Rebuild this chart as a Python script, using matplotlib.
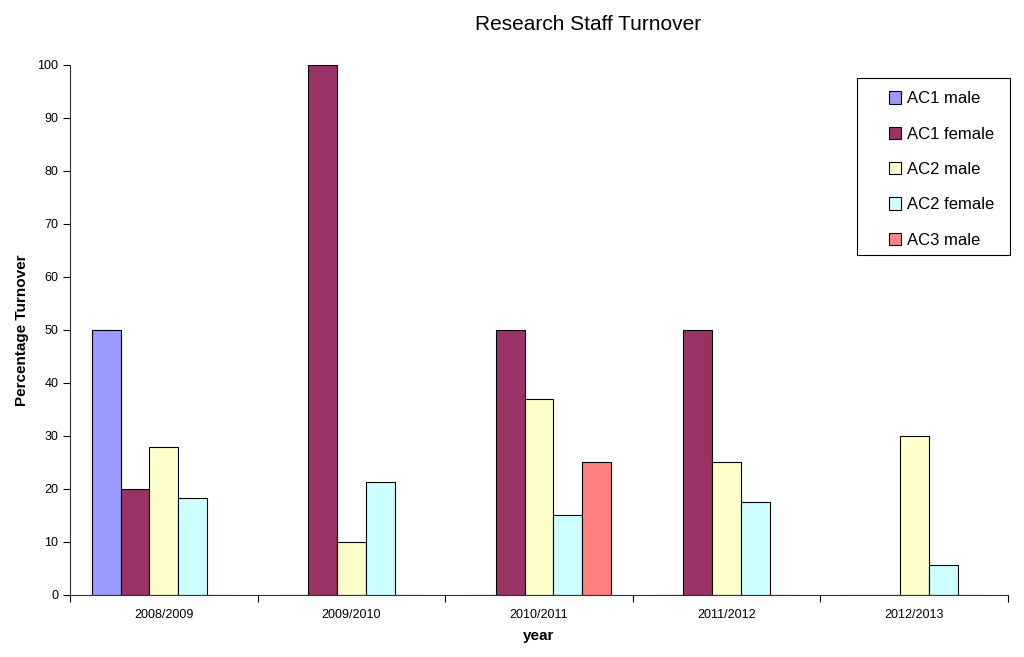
import matplotlib
matplotlib.use("Agg")
import matplotlib.pyplot as plt
from matplotlib.patches import Rectangle
import numpy as np

plt.rcParams['font.family'] = ['Liberation Sans', 'DejaVu Sans']

years = ["2008/2009", "2009/2010", "2010/2011", "2011/2012", "2012/2013"]
series_names = ["AC1 male", "AC1 female", "AC2 male", "AC2 female", "AC3 male"]
ac1_male = [50, 0, 0, 0, 0]
ac1_female = [20, 100, 50, 50, 0]
ac2_male = [28, 10, 37, 25, 30]
ac2_female = [18.2, 21.4, 15, 17.5, 5.6]
ac3_male = [0, 0, 25, 0, 0]
colors = ["#9999FF", "#993366", "#FFFFCC", "#CCFFFF", "#FF8080"]

series = [ac1_male, ac1_female, ac2_male, ac2_female, ac3_male]

fig = plt.figure(figsize=(10.24, 6.57), dpi=100)
ax = fig.add_axes([0.0684, 0.0944, 0.916, 0.807])

x = np.arange(len(years))
w = 1 / 6.5
for i, (vals, name, c) in enumerate(zip(series, series_names, colors)):
    offs = (i - 2) * w
    ax.bar(x + offs, vals, width=w, color=c, edgecolor="black", linewidth=0.8,
           label=name)

ax.set_xlim(-0.5, len(years) - 0.5)
ax.set_ylim(0, 100)
ax.set_yticks(np.arange(0, 101, 10))
ax.set_xticks(x)
ax.set_xticklabels(years, fontsize=9)
ax.set_xticks(np.arange(-0.5, len(years), 1), minor=True)
ax.tick_params(axis='x', which='major', length=0, pad=10)
ax.tick_params(axis='x', which='minor', length=5, direction='out', width=0.8)
ax.tick_params(axis='y', labelsize=9, length=5, direction='out', width=0.8)
for s in ['top', 'right']:
    ax.spines[s].set_visible(False)
for s in ['left', 'bottom']:
    ax.spines[s].set_linewidth(0.8)
    ax.spines[s].set_color('#333333')

ax.set_xlabel("year", fontsize=11, fontweight='bold', labelpad=6)
ax.set_ylabel("Percentage Turnover", fontsize=11, fontweight='bold', labelpad=6)
fig.text(0.574, 0.962, "Research Staff Turnover", fontsize=15, ha='center', va='center')

# legend frame
fig.patches.append(Rectangle((0.837, 0.612), 0.1494, 0.2694, transform=fig.transFigure,
                             facecolor='white', edgecolor='black', linewidth=0.8,
                             zorder=5))
leg = fig.legend(*ax.get_legend_handles_labels(), loc='upper left',
                 bbox_to_anchor=(0.868, 0.861), fontsize=12,
                 frameon=False, handlelength=0.75, handleheight=0.75,
                 handletextpad=0.35, labelspacing=1.22, borderpad=0,
                 borderaxespad=0)
leg.set_zorder(6)

fig.savefig("out.png", dpi=100)
